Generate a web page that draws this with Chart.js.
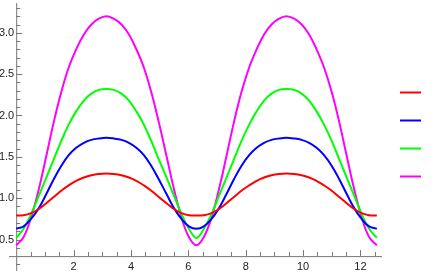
<!DOCTYPE html>
<html>
<head>
<meta charset="utf-8">
<script src="https://cdn.jsdelivr.net/npm/chart.js@4/dist/chart.umd.min.js"></script>
<style>
  html, body { margin: 0; padding: 0; background: #fff; }
  #wrap { width: 436px; height: 273px; }
</style>
</head>
<body>
<div id="wrap"><canvas id="plot"></canvas></div>
<script>
// values
const xs = [0, 0.26, 0.52, 0.79, 1.05, 1.31, 1.57, 1.83, 2.09, 2.36, 2.62, 2.88, 3.14,
  3.40, 3.67, 3.93, 4.19, 4.45, 4.71, 4.97, 5.24, 5.50, 5.76, 6.02, 6.28,
  6.54, 6.81, 7.07, 7.33, 7.59, 7.85, 8.12, 8.38, 8.64, 8.90, 9.16, 9.42,
  9.69, 9.95, 10.21, 10.47, 10.73, 11.00, 11.26, 11.52, 11.78, 12.04, 12.30, 12.57];

const redVals = [0.79, 0.795, 0.82, 0.87, 0.94, 1.015, 1.09, 1.155, 1.21, 1.25, 1.278, 1.294, 1.30,
  1.294, 1.278, 1.25, 1.21, 1.155, 1.09, 1.015, 0.94, 0.87, 0.82, 0.795, 0.79,
  0.795, 0.82, 0.87, 0.94, 1.015, 1.09, 1.155, 1.21, 1.25, 1.278, 1.294, 1.30,
  1.294, 1.278, 1.25, 1.21, 1.155, 1.09, 1.015, 0.94, 0.87, 0.82, 0.795, 0.79];

const blueVals = [0.63, 0.66, 0.75, 0.88, 1.05, 1.23, 1.39, 1.52, 1.61, 1.67, 1.705, 1.722, 1.73,
  1.722, 1.705, 1.67, 1.61, 1.52, 1.39, 1.23, 1.05, 0.88, 0.75, 0.66, 0.63,
  0.66, 0.75, 0.88, 1.05, 1.23, 1.39, 1.52, 1.61, 1.67, 1.705, 1.722, 1.73,
  1.722, 1.705, 1.67, 1.61, 1.52, 1.39, 1.23, 1.05, 0.88, 0.75, 0.66, 0.63];

const greenVals = [0.52, 0.63, 0.81, 1.03, 1.25, 1.47, 1.69, 1.89, 2.05, 2.18, 2.265, 2.31, 2.32,
  2.31, 2.265, 2.18, 2.05, 1.89, 1.69, 1.47, 1.25, 1.03, 0.81, 0.63, 0.52,
  0.63, 0.81, 1.03, 1.25, 1.47, 1.69, 1.89, 2.05, 2.18, 2.265, 2.31, 2.32,
  2.31, 2.265, 2.18, 2.05, 1.89, 1.69, 1.47, 1.25, 1.03, 0.81, 0.63, 0.52];

const magentaVals = [0.43, 0.53, 0.77, 1.11, 1.51, 1.92, 2.28, 2.58, 2.80, 2.98, 3.10, 3.17, 3.20,
  3.17, 3.10, 2.98, 2.80, 2.58, 2.28, 1.92, 1.51, 1.11, 0.77, 0.53, 0.43,
  0.53, 0.77, 1.11, 1.51, 1.92, 2.28, 2.58, 2.80, 2.98, 3.10, 3.17, 3.20,
  3.17, 3.10, 2.98, 2.80, 2.58, 2.28, 1.92, 1.51, 1.11, 0.77, 0.53, 0.43];

const xTickLabels = [2, 4, 6, 8, 10, 12];
const yTickLabels = [0.5, 1.0, 1.5, 2.0, 2.5, 3.0];

const seriesColors = ['#ff0000', '#0000ff', '#00ff00', '#ff00ff'];
const seriesVals = [redVals, blueVals, greenVals, magentaVals];

// axes cross at this point, like the original
const originX = 0;
const originY = 0.3;

const toPoints = vals => vals.map((v, i) => ({ x: xs[i], y: v }));

// --- Mathematica-like axes with inward ticks ---
const axesPlugin = {
    id: 'axes',
    beforeDatasetsDraw(chart) {
        const { ctx, scales: { x, y }, chartArea } = chart;
        const ax = x.getPixelForValue(originX);
        const ay = y.getPixelForValue(originY);
        ctx.save();
        ctx.strokeStyle = '#777';
        ctx.lineWidth = 1;
        ctx.beginPath();
        ctx.moveTo(chartArea.left, ay + 0.5);
        ctx.lineTo(chartArea.right, ay + 0.5);
        ctx.moveTo(ax + 0.5, chartArea.top);
        ctx.lineTo(ax + 0.5, chartArea.bottom);
        ctx.stroke();

        // x ticks, minor every 0.5
        ctx.beginPath();
        for (let i = 1; i * 0.5 <= x.max; i++) {
            const px = Math.round(x.getPixelForValue(i * 0.5)) + 0.5;
            const len = i % 4 === 0 ? 6 : 4;
            ctx.moveTo(px, ay);
            ctx.lineTo(px, ay - len);
        }
        // y ticks, minor every 0.1
        for (let i = Math.ceil(y.min * 10); i / 10 <= y.max; i++) {
            if (i === 3) continue;
            const py = Math.round(y.getPixelForValue(i / 10)) + 0.5;
            const len = i % 5 === 0 ? 6 : 4;
            ctx.moveTo(ax, py);
            ctx.lineTo(ax + len, py);
        }
        ctx.stroke();

        ctx.fillStyle = '#222';
        ctx.font = '11px "Liberation Sans", Arial, sans-serif';
        ctx.textAlign = 'center';
        ctx.textBaseline = 'top';
        xTickLabels.forEach(v => {
            ctx.fillText(String(v), x.getPixelForValue(v), ay + 5);
        });
        ctx.textAlign = 'right';
        ctx.textBaseline = 'middle';
        yTickLabels.forEach(v => {
            ctx.fillText(v.toFixed(1), ax - 2, y.getPixelForValue(v));
        });
        ctx.restore();
    },
    afterDraw(chart) {
        // legend: plain coloured line segments, no labels
        const { ctx } = chart;
        ctx.save();
        ctx.lineWidth = 2;
        seriesColors.forEach((c, i) => {
            const py = 92.5 + i * 28;
            ctx.strokeStyle = c;
            ctx.beginPath();
            ctx.moveTo(400, py);
            ctx.lineTo(421, py);
            ctx.stroke();
        });
        ctx.restore();
    }
};

new Chart(document.getElementById('plot'), {
    type: 'line',
    data: {
        datasets: seriesVals.map((vals, i) => ({
            data: toPoints(vals),
            borderColor: seriesColors[i],
            borderWidth: 2,
            pointRadius: 0,
            fill: false,
            tension: 0.4
        }))
    },
    options: {
        responsive: true,
        maintainAspectRatio: false,
        animation: false,
        layout: { padding: { left: 9, right: 54, top: 3, bottom: 2 } },
        plugins: { legend: { display: false }, tooltip: { enabled: false } },
        scales: {
            x: { type: 'linear', min: -0.25, max: 12.75, display: false },
            y: { type: 'linear', min: 0.12, max: 3.36, display: false }
        }
    },
    plugins: [axesPlugin]
});
</script>
</body>
</html>
